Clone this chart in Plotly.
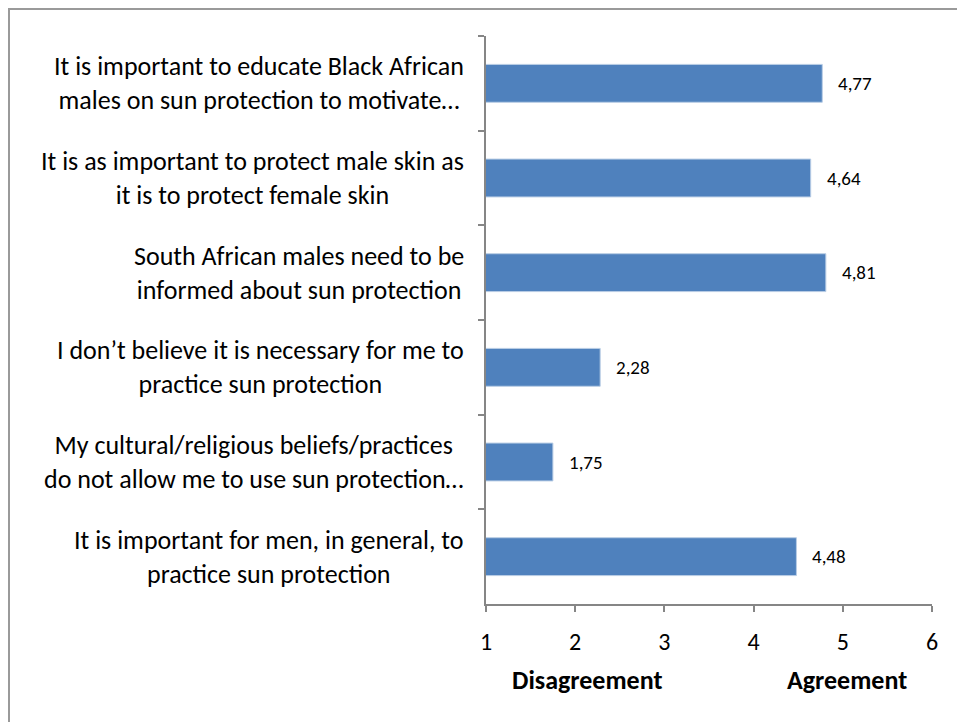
import plotly.graph_objects as go

categories = [
    "It is important to educate Black African<br>males on sun protection to motivate…",
    "It is as important to protect male skin as<br>it is to protect female skin",
    "South African males need to be<br>informed about sun protection",
    "I don’t believe it is necessary for me to<br>practice sun protection",
    "My cultural/religious beliefs/practices<br>do not allow me to use sun protection…",
    "It is important for men, in general, to<br>practice sun protection",
]
values = [4.77, 4.64, 4.81, 2.28, 1.75, 4.48]
x_ticks = [1, 2, 3, 4, 5, 6]
scale_labels = [("Disagreement", 2.13), ("Agreement", 5.05)]

W, H = 957, 722
L, R, T, B = 486, 25, 36, 118
pw, ph = W - L - R, H - T - B

FONT = "Carlito, 'Open Sans', sans-serif"
GRAY = "#868686"

fig = go.Figure()
fig.add_trace(go.Bar(
    y=categories, x=values, orientation="h",
    marker=dict(color="#4F81BD", line=dict(color="#B9CDE5", width=1)),
    hoverinfo="skip",
))

annotations = []
for c, v in zip(categories, values):
    annotations.append(dict(
        x=v, y=c, xref="x", yref="y", text=f"{v:.2f}".replace(".", ","),
        showarrow=False, xanchor="left", xshift=14,
        font=dict(family=FONT, size=19, color="#000"),
    ))
    annotations.append(dict(
        x=0, y=c, xref="paper", yref="y", text=c, align="center",
        showarrow=False, xanchor="right", xshift=-20,
        font=dict(family=FONT, size=26, color="#000"),
    ))
for txt, xv in scale_labels:
    annotations.append(dict(
        x=xv, y=-76 / ph, xref="x", yref="paper", text=f"<b>{txt}</b>",
        showarrow=False, xanchor="center", yanchor="middle",
        font=dict(family=FONT, size=26, color="#000"),
    ))

def px_x(p):
    return (p - L) / pw

def px_y(p):
    return 1 - (p - T) / ph

shapes = [
    dict(type="line", xref="paper", yref="paper",
         x0=px_x(9), x1=px_x(9), y0=px_y(8), y1=px_y(H + 5),
         line=dict(color="#9a9a9a", width=2)),
    dict(type="line", xref="paper", yref="paper",
         x0=px_x(8), x1=px_x(W + 5), y0=px_y(9), y1=px_y(9),
         line=dict(color="#9a9a9a", width=2)),
]

fig.update_layout(
    width=W, height=H,
    margin=dict(l=L, r=R, t=T, b=B),
    paper_bgcolor="white", plot_bgcolor="white",
    showlegend=False, bargap=0.6,
    annotations=annotations, shapes=shapes,
    font=dict(family=FONT, color="#000"),
)
fig.update_xaxes(
    range=[1, 6], tickvals=x_ticks, ticktext=[str(t) for t in x_ticks],
    showgrid=False, zeroline=False,
    showline=True, linecolor=GRAY, linewidth=1.5,
    ticks="outside", ticklen=6, tickcolor=GRAY, tickwidth=1.5,
    tickfont=dict(family=FONT, size=24, color="#000"),
    ticklabelstandoff=9,
)
fig.update_yaxes(
    autorange="reversed", showticklabels=False, tickson="boundaries",
    showgrid=False, zeroline=False,
    showline=True, linecolor=GRAY, linewidth=1.5,
    ticks="outside", ticklen=6, tickcolor=GRAY, tickwidth=1.5,
)

fig.write_html(
    "out.html",
    config={"displayModeBar": False},
    post_script="document.body.style.margin='0';document.body.style.overflow='hidden';",
)
